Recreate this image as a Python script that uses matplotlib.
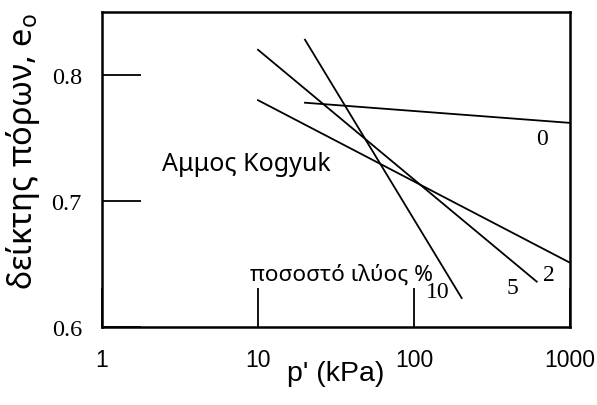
#Curvas e0 - p' para la arena Kogyuk
import numpy as np
import matplotlib.pyplot as plt

# Datos (extremos de cada recta)
silt_pct = ['0', '2', '5', '10']
p_start = [20, 10, 10, 20]      # kPa
p_end = [1000, 1000, 612, 202]  # kPa
e_start = [0.778, 0.780, 0.820, 0.828]
e_end = [0.762, 0.651, 0.636, 0.623]
# posicion de los numeros de cada recta
lab_p = [658, 733, 428, 142]
lab_e = [0.7494, 0.6419, 0.6316, 0.6280]

x_ticks = [1, 10, 100, 1000]
x_ticklabels = ['1', '10', '100', '1000']
y_ticks = [0.6, 0.7, 0.8]
y_ticklabels = ['0.6', '0.7', '0.8']

fig = plt.figure(figsize=(5.97, 4.06), dpi=100)
ax = fig.add_axes([0.1709, 0.1921, 0.7839, 0.7759])

for i in range(len(silt_pct)):
    ax.plot([p_start[i], p_end[i]], [e_start[i], e_end[i]], color='black', lw=1.3)
    ax.text(lab_p[i], lab_e[i], silt_pct[i], family='Liberation Serif', fontsize=17,
            ha='center', va='center')

ax.set_xscale('log')
ax.set_xlim(1, 1000)
ax.set_ylim(0.6, 0.85)
ax.set_xticks(x_ticks)
ax.set_xticklabels(x_ticklabels, family='Liberation Sans', fontsize=16.5)
ax.set_yticks(y_ticks)
ax.set_yticklabels(y_ticklabels, family='Liberation Serif', fontsize=17.5)
ax.minorticks_off()
ax.tick_params(direction='in', length=28, width=1.3)
ax.tick_params(axis='x', pad=15)
ax.tick_params(axis='y', pad=14.5)
for s in ax.spines.values():
    s.set_linewidth(1.8)

ax.set_xlabel("p' (kPa)", family='Liberation Sans', fontsize=20.5, labelpad=-8)
ax.set_ylabel('δείκτης πόρων, e$_\\mathregular{o}$', family='Noto Sans', fontsize=23.5)
ax.yaxis.set_label_coords(-0.128, 0.56)

ax.text(2.42, 0.7249, 'Αμμος Kogyuk', family='Noto Sans', fontsize=18, ha='left', va='baseline')
ax.text(8.89, 0.6372, 'ποσοστό ιλύος %', family='Noto Sans', fontsize=16.3, ha='left', va='baseline')

plt.savefig('out.png', dpi=100)
